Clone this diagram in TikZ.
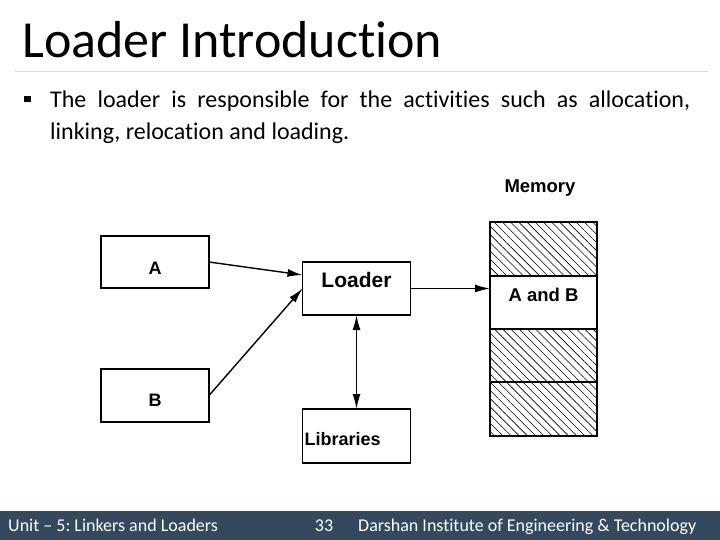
\documentclass[tikz,border=0pt]{standalone}
\usepackage{fontspec}
\setmainfont{Carlito}[Ligatures={TeX,NoCommon}]
\newfontfamily\arialfont{Liberation Sans}
\usetikzlibrary{arrows.meta,patterns.meta,positioning}
\definecolor{footbar}{HTML}{34495E}
\definecolor{divider}{HTML}{D9D9D9}
\frenchspacing

\tikzset{
  blockbox/.style={draw, line width=1.4pt, minimum width=108pt, minimum height=53pt,
    inner sep=0pt, outer sep=0pt, font=\arialfont\bfseries\fontsize{18}{20}\selectfont},
  memcell/.style={draw, line width=1.4pt, minimum width=107pt, minimum height=53pt,
    inner sep=0pt, outer sep=0pt, font=\arialfont\bfseries\fontsize{18.5}{20}\selectfont},
  hatched/.style={pattern={Lines[angle=-45,distance=5.8pt,line width=0.6pt]}},
  flow/.style={line width=1.4pt, -{Latex[length=15pt,width=8pt]}},
  foottext/.style={anchor=base, text=white, inner sep=0pt, font=\fontsize{18}{20}\selectfont}
}

\begin{document}
\begin{tikzpicture}[x=1pt,y=-1pt]
  \useasboundingbox (0,0) rectangle (720,540);

  \node[anchor=base west, inner sep=0pt, font=\fontsize{52}{60}\selectfont] (title) at (22,58) {Loader Introduction};
  \draw[divider, line width=1pt] (15,72) -- (708,72);

  \node[fill=black, minimum width=7pt, minimum height=6pt, inner sep=0pt] (bullet) at (27.5,99.5) {};
  \node[anchor=north west, inner sep=0pt, text width=640pt, align=justify,
        font=\fontsize{24}{32}\selectfont] (intro) at (50,91)
    {The loader is responsible for the activities such as allocation, \mbox{linking,} relocation and loading.};

  \node[blockbox, minimum height=52pt, text height=25pt, text depth=0pt] (a) at (155,262) {A};
  \node[blockbox, text height=22pt, text depth=0pt] (b) at (155,395.5) {B};
  \node[blockbox, text height=13pt, text depth=16pt, font=\arialfont\bfseries\fontsize{21}{22}\selectfont] (loader) at (356.5,288.5) {Loader};
  \node[blockbox, minimum height=54pt, text width=104pt, align=left, text height=19pt, text depth=0pt] (libs) at (356.5,436) {Libraries};

  \node[font=\arialfont\bfseries\fontsize{18.5}{20}\selectfont] (memlabel) at (540,188) {Memory};
  \node[memcell, hatched, minimum height=54pt] (m1) at (543.5,249) {};
  \node[memcell, below=0pt of m1, text height=13pt, text depth=16pt] (m2) {A and B};
  \node[memcell, hatched, below=0pt of m2] (m3) {};
  \node[memcell, hatched, minimum height=54pt, below=0pt of m3] (m4) {};

  \draw[flow] (a.east) -- ([yshift=13.5pt]loader.west);
  \draw[flow] (b.east) -- (loader.west);
  \draw[flow, {Latex[length=15pt,width=8pt]}-{Latex[length=15pt,width=8pt]}] (loader.south) -- (libs.north);
  \draw[flow] (loader.east) -- (loader.east -| m2.west);

  \fill[footbar] (0,511) rectangle (720,540);
  \node[foottext, anchor=base west] (unit) at (8,531) {Unit – 5: Linkers and Loaders};
  \node[foottext] (page) at (324,531) {33};
  \node[foottext, anchor=base west] (inst) at (358,531) {Darshan Institute of Engineering \& Technology};
\end{tikzpicture}
\end{document}
